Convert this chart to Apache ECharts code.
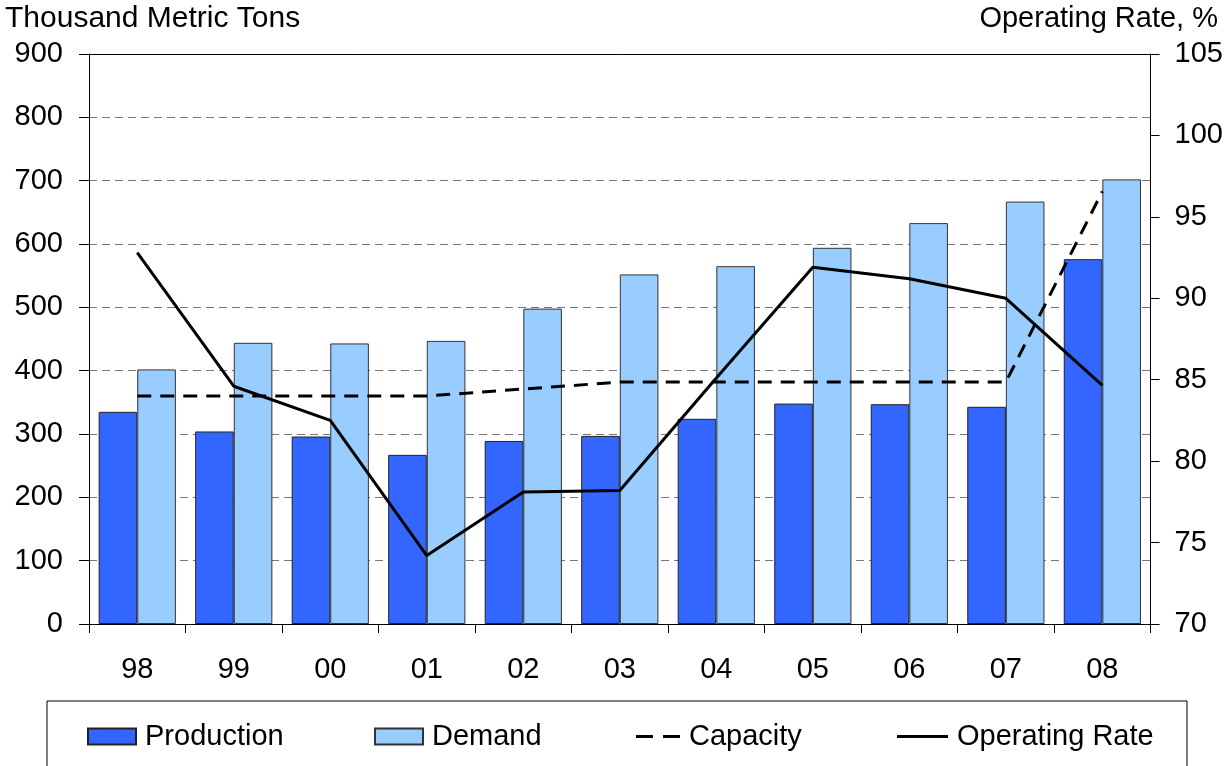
<!DOCTYPE html>
<html>
<head>
<meta charset="utf-8">
<script src="https://cdn.jsdelivr.net/npm/echarts@6/dist/echarts.min.js"></script>
<style>
html,body{margin:0;padding:0;background:#fff;}
#chart{width:1226px;height:766px;}
</style>
</head>
<body>
<div id="chart"></div>
<script>
const categories = ['98','99','00','01','02','03','04','05','06','07','08'];
const production = [335, 304, 296, 267, 289, 297, 324, 348, 347, 343, 576];
const demand = [402, 444, 443, 447, 498, 552, 565, 594, 633, 667, 702];
const capacity = [360, 360, 360, 360, 371, 382, 382, 382, 382, 382, 683];
const operatingRate = [92.8, 84.6, 82.5, 74.2, 78.1, 78.2, 85.1, 91.9, 91.2, 90.0, 84.65];
const leftTitle = 'Thousand Metric Tons';
const rightTitle = 'Operating Rate, %';

const FONT = '"Liberation Sans", Arial, sans-serif';
const chart = echarts.init(document.getElementById('chart'), null, {renderer: 'canvas'});

function legendFor(name, left, w, h, icon) {
  return {
    data: [name], left: left, top: 722, padding: 0, itemGap: 0,
    itemWidth: w, itemHeight: h, selectedMode: false, icon: icon,
    textStyle: {fontFamily: FONT, fontSize: 29, color: '#000', padding: [0, 0, 0, 4]}
  };
}

const option = {
  backgroundColor: '#fff',
  animation: false,
  textStyle: {fontFamily: FONT},
  title: [
    {text: leftTitle, left: 5, top: 4, padding: 0, textStyle: {fontFamily: FONT, fontSize: 30, fontWeight: 'normal', color: '#000'}},
    {text: rightTitle, right: 8, top: 4, padding: 0, textStyle: {fontFamily: FONT, fontSize: 29, fontWeight: 'normal', color: '#000'}}
  ],
  grid: {left: 89, right: 75, top: 54, bottom: 142},
  legend: [
    legendFor('Production', 87, 48, 16, 'rect'),
    legendFor('Demand', 374, 48, 16, 'rect'),
    legendFor('Capacity', 636, 44, 3, 'path://M0,0H17V3H0Z M27,0H44V3H27Z'),
    legendFor('Operating Rate', 897, 51, 3, 'rect')
  ],
  graphic: [
    {type: 'rect', shape: {x: 47, y: 701, width: 1140, height: 100}, style: {fill: 'none', stroke: '#000', lineWidth: 1}, z: 0}
  ],
  xAxis: [
    {
      type: 'category', data: categories, boundaryGap: true,
      axisLine: {lineStyle: {color: '#000', width: 1}},
      axisTick: {show: true, length: 9, lineStyle: {color: '#000'}},
      axisLabel: {fontFamily: FONT, fontSize: 29, color: '#000', margin: 31},
      splitLine: {show: false}
    },
    {
      type: 'category', data: categories, position: 'top', z: 10,
      axisLine: {show: true, lineStyle: {color: '#000', width: 1}},
      axisTick: {show: false}, axisLabel: {show: false}, splitLine: {show: false}
    }
  ],
  yAxis: [
    {
      type: 'value', min: 0, max: 900, interval: 100, position: 'left',
      axisLine: {show: true, lineStyle: {color: '#000', width: 1}},
      axisTick: {show: true, length: 10, lineStyle: {color: '#000'}},
      axisLabel: {fontFamily: FONT, fontSize: 29, color: '#000', margin: 26},
      splitLine: {show: true, lineStyle: {color: '#777', width: 1, type: [8, 5]}}
    },
    {
      type: 'value', min: 70, max: 105, interval: 5, position: 'right',
      axisLine: {show: true, lineStyle: {color: '#000', width: 1}},
      axisTick: {show: true, length: 9, lineStyle: {color: '#000'}},
      axisLabel: {fontFamily: FONT, fontSize: 29, color: '#000', margin: 24},
      splitLine: {show: false}
    }
  ],
  series: [
    {
      name: 'Production', type: 'bar', data: production, barWidth: '40%', barGap: '0%',
      itemStyle: {color: '#3366FF', borderColor: '#222', borderWidth: 1}
    },
    {
      name: 'Demand', type: 'bar', data: demand, barWidth: '40%', barGap: '0%',
      itemStyle: {color: '#99CCFF', borderColor: '#333', borderWidth: 1}
    },
    {
      name: 'Capacity', type: 'line', data: capacity, symbol: 'none', z: 5,
      lineStyle: {color: '#000', width: 3, type: [14, 9]}, itemStyle: {color: '#000'}
    },
    {
      name: 'Operating Rate', type: 'line', yAxisIndex: 1, data: operatingRate, symbol: 'none', z: 6,
      lineStyle: {color: '#000', width: 3}, itemStyle: {color: '#000'}
    }
  ]
};
chart.setOption(option);
</script>
</body>
</html>
